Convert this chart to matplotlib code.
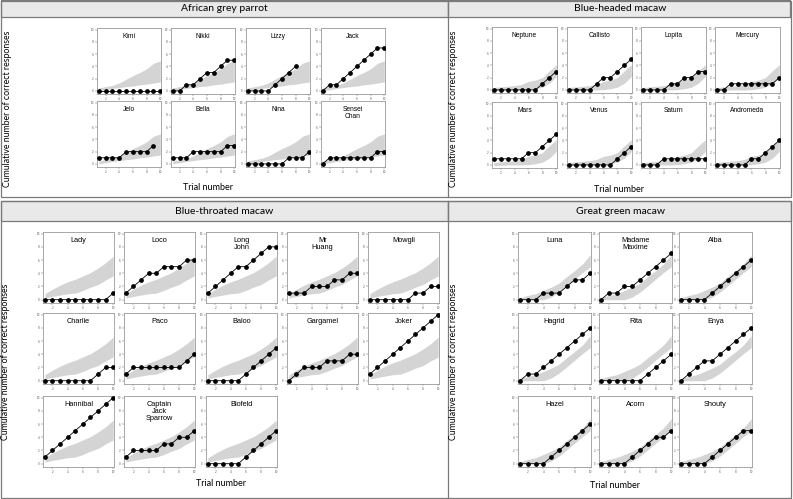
import matplotlib.pyplot as plt
from matplotlib.patches import Rectangle

W, H = 793, 499
trials = [1, 2, 3, 4, 5, 6, 7, 8, 9, 10]

# African grey parrot
grey_names = ["Kimi", "Nikki", "Lizzy", "Jack", "Jelo", "Bella", "Nina", "Sensei\nChan"]
grey_scores = [
    [0, 0, 0, 0, 0, 0, 0, 0, 0, 0],
    [0, 0, 1, 1, 2, 3, 3, 4, 5, 5],
    [0, 0, 0, 0, 1, 2, 3, 4],
    [0, 1, 1, 2, 3, 4, 5, 6, 7, 7],
    [1, 1, 1, 1, 2, 2, 2, 2, 3],
    [1, 1, 1, 2, 2, 2, 2, 2, 3, 3],
    [0, 0, 0, 0, 0, 0, 1, 1, 1, 2],
    [0, 1, 1, 1, 1, 1, 1, 1, 2, 2],
]
grey_lower = [0.0, 0.2, 0.4, 0.55, 0.7, 0.8, 1.0, 1.1, 1.3, 1.45]
grey_upper = [0.5, 0.7, 0.9, 1.3, 1.9, 2.5, 3.0, 3.6, 4.5, 4.9]

# Blue-headed macaw
bh_names = ["Neptune", "Callisto", "Lopita", "Mercury", "Mars", "Venus", "Saturn", "Andromeda"]
bh_scores = [
    [0, 0, 0, 0, 0, 0, 0, 1, 2, 3],
    [0, 0, 0, 0, 1, 2, 2, 3, 4, 5],
    [0, 0, 0, 0, 1, 1, 2, 2, 3, 3],
    [0, 0, 1, 1, 1, 1, 1, 1, 1, 2],
    [1, 1, 1, 1, 1, 2, 2, 3, 4, 5],
    [0, 0, 0, 0, 0, 0, 0, 1, 2, 3],
    [0, 0, 0, 1, 1, 1, 1, 1, 1, 1],
    [0, 0, 0, 0, 0, 1, 1, 2, 3, 4],
]
bh_lower = [-0.1, -0.1, 0.0, 0.0, 0.0, 0.05, 0.2, 0.45, 1.1, 2.2]
bh_upper = [0.4, 0.5, 0.6, 0.7, 0.9, 1.4, 1.6, 2.0, 3.1, 4.1]

# Blue-throated macaw
bt_names = ["Lady", "Loco", "Long\nJohn", "Mr\nHuang", "Mowgli",
            "Charlie", "Paco", "Baloo", "Gargamel", "Joker",
            "Hannibal", "Captain\nJack\nSparrow", "Blofeld"]
bt_scores = [
    [0, 0, 0, 0, 0, 0, 0, 0, 0, 1],
    [1, 2, 3, 4, 4, 5, 5, 5, 6, 6],
    [1, 2, 3, 4, 5, 5, 6, 7, 8, 8],
    [1, 1, 1, 2, 2, 2, 3, 3, 4, 4],
    [0, 0, 0, 0, 0, 0, 1, 1, 2, 2],
    [0, 0, 0, 0, 0, 0, 0, 1, 2, 2],
    [1, 2, 2, 2, 2, 2, 2, 2, 3, 4],
    [0, 0, 0, 0, 0, 1, 2, 3, 4, 5],
    [0, 1, 2, 2, 2, 3, 3, 3, 4, 4],
    [1, 2, 3, 4, 5, 6, 7, 8, 9, 10],
    [1, 2, 3, 4, 5, 6, 7, 8, 9, 10],
    [1, 2, 2, 2, 2, 3, 3, 4, 4, 5],
    [0, 0, 0, 0, 0, 1, 2, 3, 4, 5],
]
bt_lower = [0.25, 0.5, 0.7, 0.9, 1.0, 1.4, 1.9, 2.3, 3.0, 3.6]
bt_upper = [0.9, 1.6, 2.2, 2.7, 3.1, 3.6, 4.1, 4.8, 5.6, 6.6]

# Great green macaw
gg_names = ["Luna", "Madame\nMaxime", "Alba", "Hagrid", "Rita", "Enya", "Hazel", "Acorn", "Shouty"]
gg_scores = [
    [0, 0, 0, 1, 1, 1, 2, 3, 3, 4],
    [0, 1, 1, 2, 2, 3, 4, 5, 6, 7],
    [0, 0, 0, 0, 1, 2, 3, 4, 5, 6],
    [0, 1, 1, 2, 3, 4, 5, 6, 7, 8],
    [0, 0, 0, 0, 0, 0, 1, 2, 3, 4],
    [0, 1, 2, 3, 3, 4, 5, 6, 7, 8],
    [0, 0, 0, 0, 1, 2, 3, 4, 5, 6],
    [0, 0, 0, 0, 1, 2, 3, 4, 4, 5],
    [0, 0, 0, 0, 1, 2, 3, 4, 5, 5],
]
gg_lower = [0.0, 0.0, 0.0, 0.0, 0.4, 1.15, 2.1, 3.1, 4.1, 5.0]
gg_upper = [0.3, 0.65, 0.9, 1.4, 1.9, 2.5, 3.5, 4.4, 5.4, 6.8]

fig = plt.figure(figsize=(W / 100, H / 100), dpi=100)
LABEL_FONT = ['Lato', 'DejaVu Sans']
NAME_FONT = ['Liberation Sans', 'DejaVu Sans']


def box(x, y, w, h):
    # pixel box (top-left origin) -> figure fraction
    return [x / W, 1 - (y + h) / H, w / W, h / H]


def rect(x, y, w, h, fc='none', ec='#7a7a7a', lw=0.9):
    fig.add_artist(Rectangle((x / W, 1 - (y + h) / H), w / W, h / H,
                             transform=fig.transFigure, fc=fc, ec=ec, lw=lw))


def ftext(x, y, s, **kw):
    fig.text(x / W, 1 - y / H, s, ha='center', va='center', family=LABEL_FONT, **kw)


def species(names, scores, lower, upper, xs, ys, w, h, ncols, name_size):
    for i, (name, s) in enumerate(zip(names, scores)):
        r, c = divmod(i, ncols)
        ax = fig.add_axes(box(xs[c], ys[r], w, h))
        ax.fill_between(trials, lower, upper, color='#d4d4d4', lw=0, zorder=1)
        ax.plot(trials[:len(s)], s, '-o', color='black', ms=2.4, lw=0.6, zorder=3)
        ax.set_xlim(0.75, 10.1)
        ax.set_ylim(-0.5, 10.25)
        ax.set_xticks([2, 4, 6, 8, 10])
        ax.set_yticks([0, 2, 4, 6, 8, 10])
        ax.tick_params(labelsize=2, length=1.2, width=0.3, pad=1, colors='#555555')
        for sp in ax.spines.values():
            sp.set_color('#9a9a9a')
            sp.set_linewidth(0.6)
        ax.text(0.5, 0.93, name, transform=ax.transAxes, ha='center', va='top',
                fontsize=name_size, family=NAME_FONT, linespacing=1.05)


# table frames
rect(0.5, 0.5, 447.5, 16, fc='#e9e9e9')
rect(448, 0.5, 342, 16, fc='#e9e9e9')
rect(0.5, 0.5, 790, 196.5)
fig.add_artist(plt.Line2D([448 / W, 448 / W], [1 - 0.5 / H, 1 - 197 / H],
                          transform=fig.transFigure, color='#7a7a7a', lw=0.9))
rect(0.5, 201, 447.5, 20, fc='#e9e9e9')
rect(448, 201, 342.5, 20, fc='#e9e9e9')
rect(0.5, 201, 790, 297)
fig.add_artist(plt.Line2D([448 / W, 448 / W], [1 - 201 / H, 1 - 498 / H],
                          transform=fig.transFigure, color='#7a7a7a', lw=0.9))

ftext(224, 8.5, "African grey parrot", fontsize=7.5)
ftext(620, 8.5, "Blue-headed macaw", fontsize=7.5)
ftext(224, 211.5, "Blue-throated macaw", fontsize=7.5)
ftext(621, 211.5, "Great green macaw", fontsize=7.5)

ylab = "Cumulative number of correct responses"
ftext(8, 109, ylab, fontsize=6.3, rotation=90)
ftext(453, 109, ylab, fontsize=6.3, rotation=90)
ftext(6, 362, ylab, fontsize=6.3, rotation=90)
ftext(453, 362, ylab, fontsize=6.3, rotation=90)
ftext(208, 188, "Trial number", fontsize=6.5)
ftext(619, 190, "Trial number", fontsize=6.5)
ftext(221, 484, "Trial number", fontsize=6.5)
ftext(615, 485, "Trial number", fontsize=6.5)

species(grey_names, grey_scores, grey_lower, grey_upper,
        [97, 171, 246, 321], [28, 101], 64, 66, 4, 4.8)
species(bh_names, bh_scores, bh_lower, bh_upper,
        [492, 567, 641, 715], [27, 102], 65, 66, 4, 4.8)
species(bt_names, bt_scores, bt_lower, bt_upper,
        [43, 124, 206, 287, 368], [232, 313, 396], 71, 71, 5, 5.3)
species(gg_names, gg_scores, gg_lower, gg_upper,
        [518, 599, 679], [232, 313, 396], 73, 71, 3, 5.3)

fig.savefig('out.png', dpi=100)
